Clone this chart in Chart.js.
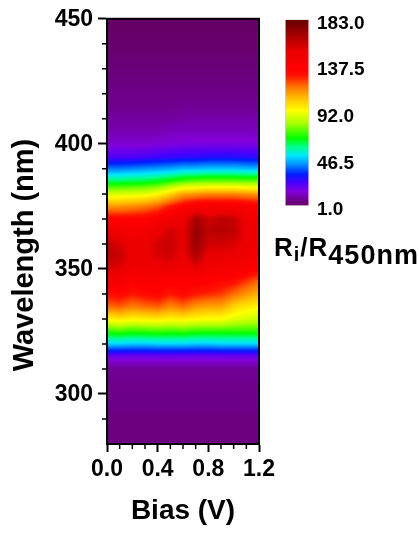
<!DOCTYPE html>
<html>
<head>
<meta charset="utf-8">
<script src="https://cdn.jsdelivr.net/npm/chart.js@4.4.1/dist/chart.umd.min.js"></script>
<style>
  body { margin: 0; background: #fff; }
  #wrap { position: relative; width: 419px; height: 534px; }
  #main { position: absolute; left: 0; top: 0; }
  #cbar { position: absolute; left: 270px; top: 0; }
  #cbarTitle {
    position: absolute; left: 274px; top: 232px; white-space: nowrap; line-height: 1;
    letter-spacing: 1px; font: bold 26px "Liberation Sans", Arial, sans-serif; color: #000;
  }
  #cbarTitle .s1 { font-size: 20px; position: relative; top: 5px; }
  #cbarTitle .s2 { font-size: 27px; position: relative; top: 8px; }
</style>
</head>
<body>
<div id="wrap">
  <canvas id="main" width="419" height="534"></canvas>
  <canvas id="cbar" width="149" height="240"></canvas>
  <div id="cbarTitle">R<span class="s1">i</span>/R<span class="s2">450nm</span></div>
</div>
<script>
// bias (V) columns and wavelength (nm) rows of the map
const bias = [0.0, 0.1, 0.2, 0.3, 0.4, 0.5, 0.6, 0.7, 0.8, 0.9, 1.0, 1.1, 1.2];
const wavelength = [280, 285, 290, 295, 300, 305, 310, 315, 320, 325, 330, 335, 340, 345,
  350, 355, 360, 365, 370, 375, 380, 385, 390, 395, 400, 405, 410, 415, 420, 425, 430,
  435, 440, 445, 450];

// Ri/R450nm, one array per bias column, 280 -> 450 nm
const ratio = [
  [5, 5, 5, 6, 6, 7, 8, 18, 48, 70, 96, 118, 130, 140, 156, 162, 160, 148, 134, 112, 88, 62, 40, 22, 14, 11, 9, 7, 6, 5, 4, 3, 2, 1.5, 1],
  [5, 5, 5, 6, 6, 7, 8, 18, 48, 72, 98, 120, 132, 142, 154, 160, 156, 146, 133, 112, 88, 62, 40, 22, 14, 11, 9, 7, 6, 5, 4, 3, 2, 1.5, 1],
  [5, 5, 5, 6, 6, 7, 8, 18, 47, 70, 96, 116, 128, 136, 146, 150, 148, 142, 133, 114, 89, 63, 41, 22, 14, 11, 9, 7, 6, 5, 4, 3, 2, 1.5, 1],
  [5, 5, 5, 6, 6, 7, 8, 18, 47, 71, 97, 118, 131, 138, 146, 150, 150, 144, 134, 116, 90, 64, 42, 23, 14, 11, 9, 7, 6, 5, 4, 3, 2, 1.5, 1],
  [5, 5, 5, 6, 6, 7, 8, 18, 48, 72, 98, 120, 133, 138, 148, 156, 158, 150, 138, 120, 94, 66, 43, 24, 15, 11, 9, 7, 6, 5, 4, 3, 2, 1.5, 1],
  [5, 5, 5, 6, 6, 7, 8, 18, 48, 71, 96, 114, 128, 136, 148, 158, 160, 158, 145, 128, 102, 70, 44, 25, 15, 12, 9, 7, 6, 5, 4, 3, 2, 1.5, 1],
  [5, 5, 5, 6, 6, 7, 8, 18, 48, 72, 97, 118, 132, 136, 144, 150, 152, 152, 148, 134, 110, 74, 46, 26, 16, 12, 10, 8, 6, 5, 4, 3, 2, 1.5, 1],
  [5, 5, 5, 6, 6, 7, 8, 18, 47, 70, 95, 112, 128, 136, 150, 166, 172, 172, 168, 140, 112, 76, 46, 26, 16, 12, 10, 8, 6, 5, 4, 3, 2, 1.5, 1],
  [5, 5, 5, 6, 6, 7, 8, 18, 47, 70, 94, 110, 126, 134, 144, 150, 158, 162, 158, 140, 114, 77, 47, 27, 16, 12, 10, 8, 6, 5, 4, 3, 2, 1.5, 1],
  [5, 5, 5, 6, 6, 7, 8, 18, 48, 70, 94, 110, 124, 132, 142, 150, 158, 164, 162, 140, 114, 77, 47, 27, 16, 12, 10, 8, 6, 5, 4, 3, 2, 1.5, 1],
  [5, 5, 5, 6, 6, 7, 8, 18, 48, 70, 90, 102, 118, 130, 142, 150, 156, 162, 160, 140, 114, 77, 47, 27, 16, 12, 10, 8, 6, 5, 4, 3, 2, 1.5, 1],
  [5, 5, 5, 6, 6, 7, 8, 18, 48, 70, 88, 98, 112, 124, 138, 146, 150, 150, 148, 138, 112, 76, 46, 26, 16, 12, 10, 8, 6, 5, 4, 3, 2, 1.5, 1],
  [5, 5, 5, 6, 6, 7, 8, 18, 48, 70, 86, 96, 108, 118, 134, 144, 148, 148, 146, 136, 112, 76, 46, 26, 16, 12, 10, 8, 6, 5, 4, 3, 2, 1.5, 1]
];

const biasTicks = [0.0, 0.4, 0.8, 1.2];
const wavelengthTicks = [300, 350, 400, 450];
const ratioTicks = [1.0, 46.5, 92.0, 137.5, 183.0];

// rainbow palette (value -> rgb)
const palette = [
  [1, [102, 0, 102]], [8, [112, 0, 150]], [15, [130, 0, 220]], [24, [70, 0, 255]],
  [32, [0, 30, 255]], [42, [0, 150, 255]], [50, [0, 230, 255]], [58, [0, 255, 150]],
  [67, [0, 255, 0]], [82, [170, 255, 0]], [94, [255, 255, 0]], [106, [255, 190, 0]],
  [118, [255, 110, 0]], [128, [255, 20, 0]], [134, [255, 0, 0]], [152, [235, 0, 0]],
  [168, [165, 0, 0]], [183, [100, 0, 0]]
];

const FONT = '"Liberation Sans", Arial, sans-serif';

function locate(arr, v) {
  const n = arr.length - 1;
  if (v <= arr[0]) return [0, 0];
  if (v >= arr[n]) return [n - 1, 1];
  let i = 0;
  while (arr[i + 1] < v) i++;
  return [i, (v - arr[i]) / (arr[i + 1] - arr[i])];
}

function colorFor(v) {
  const stops = palette.map(p => p[0]);
  const [i, t] = locate(stops, v);
  const a = palette[i][1], b = palette[i + 1][1];
  return [0, 1, 2].map(k => Math.round(a[k] + (b[k] - a[k]) * t));
}

function ratioAt(b, w) {
  const [i, ti] = locate(bias, b);
  const [j, tj] = locate(wavelength, w);
  const v00 = ratio[i][j], v01 = ratio[i][j + 1];
  const v10 = ratio[i + 1][j], v11 = ratio[i + 1][j + 1];
  const left = v00 + (v01 - v00) * tj;
  const right = v10 + (v11 - v10) * tj;
  return left + (right - left) * ti;
}

const heatmap = {
  id: 'heatmap',
  beforeDatasetsDraw(chart) {
    const { ctx, chartArea: a, scales: { x, y } } = chart;
    const w = Math.round(a.right - a.left), h = Math.round(a.bottom - a.top);
    const off = document.createElement('canvas');
    off.width = w; off.height = h;
    const octx = off.getContext('2d');
    const img = octx.createImageData(w, h);
    for (let py = 0; py < h; py++) {
      const wl = y.getValueForPixel(a.top + py + 0.5);
      for (let px = 0; px < w; px++) {
        const b = x.getValueForPixel(a.left + px + 0.5);
        const c = colorFor(ratioAt(b, wl));
        const k = (py * w + px) * 4;
        img.data[k] = c[0]; img.data[k + 1] = c[1]; img.data[k + 2] = c[2]; img.data[k + 3] = 255;
      }
    }
    octx.putImageData(img, 0, 0);
    ctx.drawImage(off, a.left, a.top);
  },
  afterDatasetsDraw(chart) {
    const { ctx, chartArea: a, scales: { x, y } } = chart;
    ctx.save();
    ctx.strokeStyle = '#000';
    ctx.lineWidth = 2;
    ctx.strokeRect(a.left, a.top, a.right - a.left, a.bottom - a.top);
    // minor ticks
    ctx.lineWidth = 1.5;
    ctx.beginPath();
    for (let v = 290; v < 450; v += 10) {
      if (v % 50 === 0) continue;
      const py = y.getPixelForValue(v);
      ctx.moveTo(a.left - 5, py); ctx.lineTo(a.left, py);
    }
    for (let k = 1; k < 12; k++) {
      if (k % 4 === 0) continue;
      const px = x.getPixelForValue(k / 10);
      ctx.moveTo(px, a.bottom); ctx.lineTo(px, a.bottom + 5);
    }
    ctx.stroke();
    // y axis title
    ctx.translate(25, 255);
    ctx.rotate(-Math.PI / 2);
    ctx.fillStyle = '#000';
    ctx.font = 'bold 29px ' + FONT;
    ctx.textAlign = 'center';
    ctx.textBaseline = 'middle';
    ctx.fillText('Wavelength (nm)', 0, 0);
    ctx.restore();
  }
};

new Chart(document.getElementById('main'), {
  type: 'scatter',
  data: { datasets: [] },
  options: {
    responsive: false,
    animation: false,
    devicePixelRatio: 1,
    layout: { padding: { left: 0, top: 18, right: 160, bottom: 0 } },
    plugins: { legend: { display: false }, tooltip: { enabled: false } },
    scales: {
      x: {
        type: 'linear', min: 0, max: 1.2,
        afterBuildTicks: s => { s.ticks = biasTicks.map(v => ({ value: v })); },
        afterFit: s => { s.height = 90; },
        ticks: { callback: v => v.toFixed(1), color: '#000', padding: 4, maxRotation: 0,
          font: { family: FONT, size: 23, weight: 'bold' } },
        grid: { drawOnChartArea: false, tickLength: 8, tickWidth: 2, tickColor: '#000' },
        border: { display: true, color: '#000', width: 2 },
        title: { display: true, text: 'Bias (V)', color: '#000', padding: { top: 0, bottom: 6 },
          font: { family: FONT, size: 28, weight: 'bold' } }
      },
      y: {
        type: 'linear', min: 280, max: 450,
        afterBuildTicks: s => { s.ticks = wavelengthTicks.map(v => ({ value: v })); },
        afterFit: s => { s.width = 107; },
        ticks: { callback: v => String(v), color: '#000', padding: 5, labelOffset: 1,
          font: { family: FONT, size: 23, weight: 'bold' } },
        grid: { drawOnChartArea: false, tickLength: 9, tickWidth: 2, tickColor: '#000' },
        border: { display: true, color: '#000', width: 2 }
      }
    }
  },
  plugins: [heatmap]
});

new Chart(document.getElementById('cbar'), {
  type: 'bar',
  data: {
    labels: [''],
    datasets: [{
      data: [[ratioTicks[0], ratioTicks[ratioTicks.length - 1]]],
      barPercentage: 1, categoryPercentage: 1,
      borderColor: '#e9cfd0', borderWidth: 1, borderSkipped: false,
      backgroundColor: c => {
        const ch = c.chart;
        if (!ch.chartArea) return '#000';
        const ys = ch.scales.y;
        const g = ch.ctx.createLinearGradient(0, ys.getPixelForValue(1), 0, ys.getPixelForValue(183));
        palette.forEach(([v, rgb]) => g.addColorStop((v - 1) / 182, 'rgb(' + rgb.join(',') + ')'));
        return g;
      }
    }]
  },
  options: {
    responsive: false,
    animation: false,
    devicePixelRatio: 1,
    layout: { padding: { left: 15, top: 19, right: 0, bottom: 34 } },
    plugins: { legend: { display: false }, tooltip: { enabled: false } },
    scales: {
      x: { display: false },
      y: {
        position: 'right', min: 1, max: 183,
        afterBuildTicks: s => { s.ticks = ratioTicks.map(v => ({ value: v })); },
        afterFit: s => { s.width = 110; },
        ticks: { callback: v => v.toFixed(1), color: '#000', padding: 8, labelOffset: 4,
          font: { family: FONT, size: 19, weight: 'bold' } },
        grid: { display: false, drawTicks: false },
        border: { display: false }
      }
    }
  }
});
</script>
</body>
</html>
